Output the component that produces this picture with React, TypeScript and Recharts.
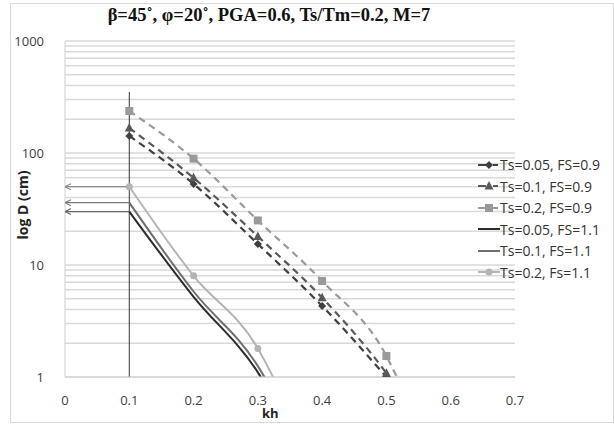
import React from 'react'
import { LineChart, Line, XAxis, YAxis, ReferenceLine } from 'recharts'

// ── Data ───────────────────────────────────────────────────────────────────
const KH_TICKS = [0, 0.1, 0.2, 0.3, 0.4, 0.5, 0.6, 0.7]
const D_TICKS = [1, 10, 100, 1000]
const D_MINOR = [2, 3, 4, 5, 6, 7, 8, 9, 20, 30, 40, 50, 60, 70, 80, 90, 200, 300, 400, 500, 600, 700, 800, 900]

// FS = 0.9 (dashed)
const khFs09_005 = [0.1, 0.2, 0.3, 0.4, 0.5]
const dFs09_005 = [142, 53, 15.4, 4.3, 1.0]
const khFs09_01 = [0.1, 0.2, 0.3, 0.4, 0.5, 0.51]
const dFs09_01 = [167, 60, 18, 5.1, 1.08, 0.9]
const khFs09_02 = [0.1, 0.2, 0.3, 0.4, 0.5, 0.52]
const dFs09_02 = [237, 89, 25, 7.2, 1.54, 0.9]

// FS = 1.1 (solid)
const khFs11_005 = [0.1, 0.2, 0.3, 0.315]
const dFs11_005 = [30, 5.2, 1.1, 0.8]
const khFs11_01 = [0.1, 0.2, 0.3, 0.32]
const dFs11_01 = [36, 5.8, 1.25, 0.8]
const khFs11_02 = [0.1, 0.2, 0.3, 0.33]
const dFs11_02 = [50, 8, 1.8, 0.85]

// vertical marker at kh = 0.1 and the arrows back to the axis
const V_LINE_KH = 0.1
const V_LINE_TOP = 350
const ARROW_KH = [0, 0.1]

const zip = (kh: number[], d: number[]) => kh.map((k, i) => ({ kh: k, D: d[i] }))

// ── Markers ────────────────────────────────────────────────────────────────
function Diamond({ cx, cy, fill }: any) {
  if (cx == null || cy == null) return null
  return <path d={`M${cx},${cy - 4}L${cx + 4},${cy}L${cx},${cy + 4}L${cx - 4},${cy}Z`} fill={fill} />
}
function Triangle({ cx, cy, fill }: any) {
  if (cx == null || cy == null) return null
  return <path d={`M${cx},${cy - 5}L${cx + 4.5},${cy + 3.5}L${cx - 4.5},${cy + 3.5}Z`} fill={fill} />
}
function Square({ cx, cy, fill }: any) {
  if (cx == null || cy == null) return null
  return <rect x={cx - 4} y={cy - 4} width={8} height={8} fill={fill} />
}
function Circle({ cx, cy, fill }: any) {
  if (cx == null || cy == null) return null
  return <circle cx={cx} cy={cy} r={3.5} fill={fill} />
}

const SERIES = [
  { name: 'Ts=0.05, FS=0.9', data: zip(khFs09_005, dFs09_005), color: '#3f3f3f', dashed: true, Marker: Diamond },
  { name: 'Ts=0.1, FS=0.9', data: zip(khFs09_01, dFs09_01), color: '#595959', dashed: true, Marker: Triangle },
  { name: 'Ts=0.2, FS=0.9', data: zip(khFs09_02, dFs09_02), color: '#9a9a9a', dashed: true, Marker: Square },
  { name: 'Ts=0.05, FS=1.1', data: zip(khFs11_005, dFs11_005), color: '#2b2b2b', dashed: false, Marker: null },
  { name: 'Ts=0.1, FS=1.1', data: zip(khFs11_01, dFs11_01), color: '#6e6e6e', dashed: false, Marker: null },
  { name: 'Ts=0.2, Fs=1.1', data: zip(khFs11_02, dFs11_02), color: '#b4b4b4', dashed: false, Marker: Circle },
]

const ARROWS = [
  { d: dFs11_02[0], color: '#8c8c8c' },
  { d: dFs11_01[0], color: '#7a7a7a' },
  { d: dFs11_005[0], color: '#6a6a6a' },
]

const FONT = '"Open Sans", "Liberation Sans", sans-serif'
const TICK = { fontSize: 13, fill: '#404040', fontFamily: FONT }

function ArrowHead({ cx, cy, index, stroke }: any) {
  if (index !== 0 || cx == null) return null
  return <path d={`M${cx + 6},${cy - 3}L${cx},${cy}L${cx + 6},${cy + 3}`} fill="none" stroke={stroke} strokeWidth={1.2} />
}

function LegendIcon({ color, dashed, Marker }: any) {
  return (
    <svg width={22} height={10} style={{ marginRight: 0, flexShrink: 0 }}>
      {dashed ? (
        <>
          <line x1={0} y1={5} x2={8} y2={5} stroke={color} strokeWidth={2} />
          <line x1={15} y1={5} x2={20} y2={5} stroke={color} strokeWidth={2} />
        </>
      ) : (
        <line x1={0} y1={5} x2={22} y2={5} stroke={color} strokeWidth={2} />
      )}
      {Marker && <Marker cx={11} cy={5} fill={color} />}
    </svg>
  )
}

export default function App() {
  return (
    <div style={{ position: 'absolute', left: 0, top: 0, width: 614, height: 425, background: '#fff', fontFamily: FONT, overflow: 'hidden' }}>
      <div style={{ position: 'absolute', left: 10, top: 3, width: 602, height: 418, border: '1px solid #d9d9d9' }} />
      <div
        style={{
          position: 'absolute', left: 0, width: 538, top: 5, textAlign: 'center',
          fontFamily: '"Liberation Serif", "Times New Roman", serif', fontWeight: 'bold', fontSize: 18.5, color: '#111',
        }}
      >
        β=45˚, φ=20˚, PGA=0.6, Ts/Tm=0.2, M=7
      </div>
      <div
        style={{
          position: 'absolute', left: 22, top: 205, transform: 'translate(-50%, -50%) rotate(-90deg)',
          fontSize: 14, fontWeight: 'bold', color: '#222', whiteSpace: 'nowrap',
        }}
      >
        log D (cm)
      </div>
      <div style={{ position: 'absolute', left: 262, top: 404, fontSize: 13, fontWeight: 'bold', color: '#222' }}>kh</div>

      <div style={{ position: 'absolute', left: 0, top: 0 }}>
        <LineChart width={614} height={425} margin={{ top: 41, right: 99, bottom: 18, left: 15 }}>
          {D_MINOR.concat(D_TICKS).map((v) => (
            <ReferenceLine key={v} y={v} stroke="#d9d9d9" strokeWidth={1.5} />
          ))}
          <XAxis
            type="number"
            dataKey="kh"
            domain={[0, 0.7]}
            ticks={KH_TICKS}
            allowDataOverflow
            tick={TICK}
            tickLine={false}
            tickSize={0}
            tickMargin={19}
            axisLine={{ stroke: '#d0d0d0' }}
            height={30}
          />
          <YAxis
            type="number"
            dataKey="D"
            scale="log"
            domain={[1, 1000]}
            ticks={D_TICKS}
            allowDataOverflow
            tick={TICK}
            tickLine={false}
            tickSize={0}
            tickMargin={21}
            axisLine={{ stroke: '#d0d0d0' }}
            width={50}
          />
          <ReferenceLine
            segment={[{ x: V_LINE_KH, y: 1 }, { x: V_LINE_KH, y: V_LINE_TOP }]}
            stroke="#333"
            strokeWidth={1}
          />
          {ARROWS.map((a, i) => (
            <Line
              key={'arrow' + i}
              data={ARROW_KH.map((k) => ({ kh: k, D: a.d }))}
              dataKey="D"
              type="linear"
              stroke={a.color}
              strokeWidth={1.2}
              dot={(p: any) => <ArrowHead key={p.index} {...p} stroke={a.color} />}
              activeDot={false}
              legendType="none"
              isAnimationActive={false}
            />
          ))}
          {SERIES.map((s) => (
            <Line
              key={s.name}
              name={s.name}
              data={s.data}
              dataKey="D"
              type="monotone"
              stroke={s.color}
              strokeWidth={s.dashed ? 2.2 : 2}
              strokeDasharray={s.dashed ? '7 5' : undefined}
              dot={s.Marker ? (p: any) => <s.Marker key={p.index} {...p} fill={s.color} /> : false}
              activeDot={false}
              isAnimationActive={false}
            />
          ))}
        </LineChart>
      </div>

      <div style={{ position: 'absolute', left: 478, top: 154, fontSize: 14, color: '#333', lineHeight: '21.5px' }}>
        {SERIES.map((s) => (
          <div key={s.name} style={{ display: 'flex', alignItems: 'center', whiteSpace: 'nowrap' }}>
            <LegendIcon color={s.color} dashed={s.dashed} Marker={s.Marker} />
            <span>{s.name}</span>
          </div>
        ))}
      </div>
    </div>
  )
}
